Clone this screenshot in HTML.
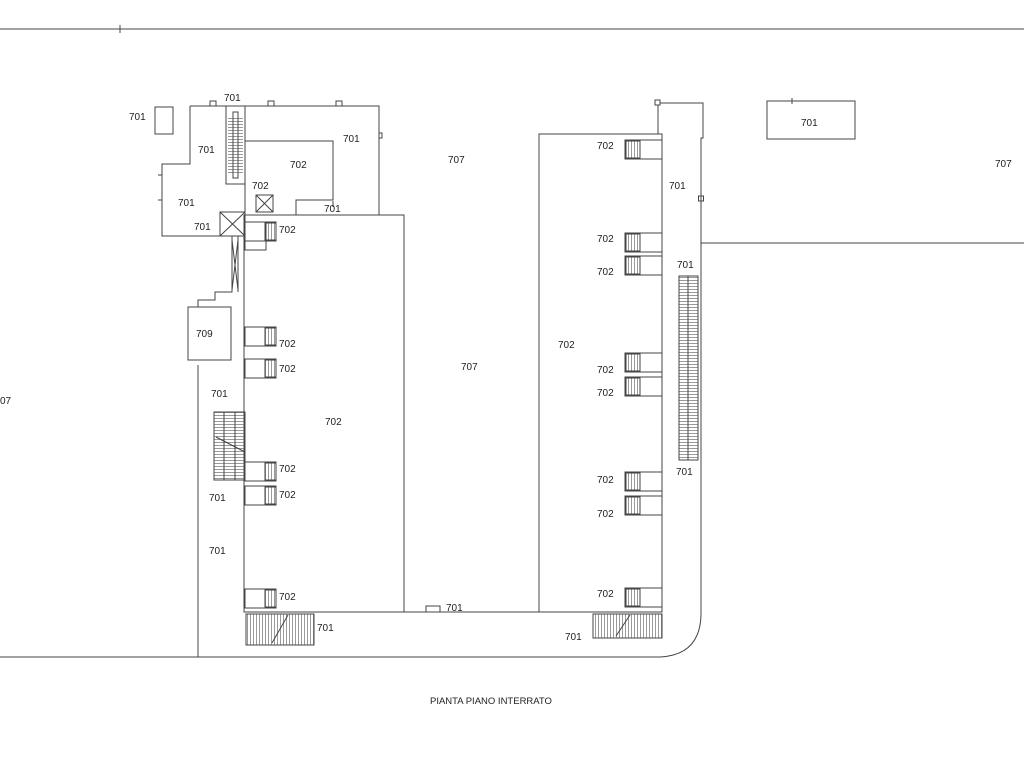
<!DOCTYPE html>
<html><head><style>body{margin:0;background:#fff}svg{display:block}text{font-family:"Liberation Sans",sans-serif;font-size:10px;fill:#222}</style></head><body>
<svg width="1024" height="768" viewBox="0 0 1024 768" xmlns="http://www.w3.org/2000/svg">
<defs>
<pattern id="hv" width="3" height="4" patternUnits="userSpaceOnUse"><path d="M1.5 0V4" stroke="#555" stroke-width="0.6"/></pattern>
<pattern id="hh" width="4" height="3" patternUnits="userSpaceOnUse"><path d="M0 1.5H4" stroke="#555" stroke-width="0.6"/></pattern>
<g id="s" stroke="#444" fill="none"><rect x="245" y="0" width="31" height="19"/><rect x="265" y="1" width="11" height="17" fill="url(#hv)"/></g>
<g id="r" stroke="#444" fill="none"><rect x="625" y="0" width="37" height="19"/><rect x="626" y="1" width="14" height="17" fill="url(#hv)"/></g>
</defs>
<g stroke="#444" stroke-width="1" fill="none">
<line x1="0" y1="29" x2="1024" y2="29"/><line x1="120" y1="25" x2="120" y2="33"/>
<path d="M0 657H660Q700 655 701 615V138H703V103H660"/>
<line x1="701" y1="243" x2="1024" y2="243"/>
<rect x="698.5" y="196" width="5" height="5"/>
<rect x="655" y="100" width="5" height="5"/>
<line x1="658" y1="105" x2="658" y2="134"/>
<rect x="767" y="101" width="88" height="38"/><line x1="792" y1="98" x2="792" y2="104"/>
<rect x="244" y="215" width="160" height="397"/>
<line x1="404" y1="612" x2="540" y2="612"/>
<path d="M426 612V606H440V612"/>
<rect x="539" y="134" width="123" height="478"/>
<line x1="198" y1="365" x2="198" y2="657"/>
<rect x="188" y="307" width="43" height="53"/>
<path d="M198 307V300H215V292H232V236"/><line x1="238" y1="236" x2="238" y2="292"/>
<path d="M232 240L238 290M238 240L232 290"/>
<path d="M190 106H379V215M190 106V164H162V236H220"/>
<rect x="220" y="212" width="25" height="24"/><path d="M220 212L245 236M245 212L220 236"/>
<rect x="226" y="106" width="19" height="78"/>
<line x1="245" y1="106" x2="245" y2="215"/>
<path d="M245 141H333V200H296V215"/>
<rect x="256" y="195" width="17" height="17"/><path d="M256 195L273 212M273 195L256 212"/>
<rect x="155" y="107" width="18" height="27"/>
<path d="M210 106V101H216V106M268 106V101H274V106M336 106V101H342V106M379 133H382V138H379"/>
<path d="M162 175H158M162 200H158M333 201V207"/>
</g>
<rect x="233" y="112" width="5" height="66" fill="none" stroke="#444"/>
<rect x="228" y="118" width="15" height="55" fill="url(#hh)"/>
<use href="#s" y="222"/><use href="#s" y="327"/><use href="#s" y="359"/><use href="#s" y="462"/><use href="#s" y="486"/><use href="#s" y="589"/>
<use href="#r" y="140"/><use href="#r" y="233"/><use href="#r" y="256"/><use href="#r" y="353"/><use href="#r" y="377"/><use href="#r" y="472"/><use href="#r" y="496"/><use href="#r" y="588"/>
<g stroke="#444" fill="none">
<rect x="245" y="222" width="21" height="28"/>
<rect x="214" y="412" width="31" height="68" fill="url(#hh)"/><rect x="214" y="412" width="31" height="68"/>
<line x1="224" y1="412" x2="224" y2="480"/><line x1="235" y1="412" x2="235" y2="480"/><line x1="216" y1="437" x2="245" y2="452"/>
<rect x="246" y="614" width="68" height="31" fill="url(#hv)"/><rect x="246" y="614" width="68" height="31"/><line x1="272" y1="643" x2="288" y2="615"/>
<rect x="593" y="614" width="69" height="24" fill="url(#hv)"/><rect x="593" y="614" width="69" height="24"/><line x1="616" y1="636" x2="630" y2="615"/>
<rect x="679" y="276" width="19" height="184" fill="url(#hh)"/><rect x="679" y="276" width="19" height="184"/><line x1="688" y1="276" x2="688" y2="460"/>
</g>
<text x="129" y="120">701</text><text x="224" y="101">701</text><text x="198" y="153">701</text><text x="343" y="142">701</text>
<text x="290" y="168">702</text><text x="252" y="189">702</text><text x="178" y="206">701</text><text x="324" y="212">701</text>
<text x="194" y="230">701</text><text x="279" y="233">702</text><text x="448" y="163">707</text><text x="995" y="167">707</text>
<text x="801" y="126">701</text><text x="669" y="189">701</text><text x="196" y="337">709</text><text x="279" y="347">702</text>
<text x="279" y="372">702</text><text x="461" y="370">707</text><text x="558" y="348">702</text><text x="0" y="404">07</text>
<text x="211" y="397">701</text><text x="325" y="425">702</text><text x="279" y="472">702</text><text x="209" y="501">701</text>
<text x="279" y="498">702</text><text x="209" y="554">701</text><text x="279" y="600">702</text><text x="317" y="631">701</text>
<text x="446" y="611">701</text><text x="565" y="640">701</text>
<text x="597" y="149">702</text><text x="597" y="242">702</text><text x="597" y="275">702</text><text x="677" y="268">701</text>
<text x="597" y="373">702</text><text x="597" y="396">702</text><text x="676" y="475">701</text><text x="597" y="483">702</text>
<text x="597" y="517">702</text><text x="597" y="597">702</text>
<text x="430" y="704" style="font-size:9.5px">PIANTA PIANO INTERRATO</text>
</svg>
</body></html>
